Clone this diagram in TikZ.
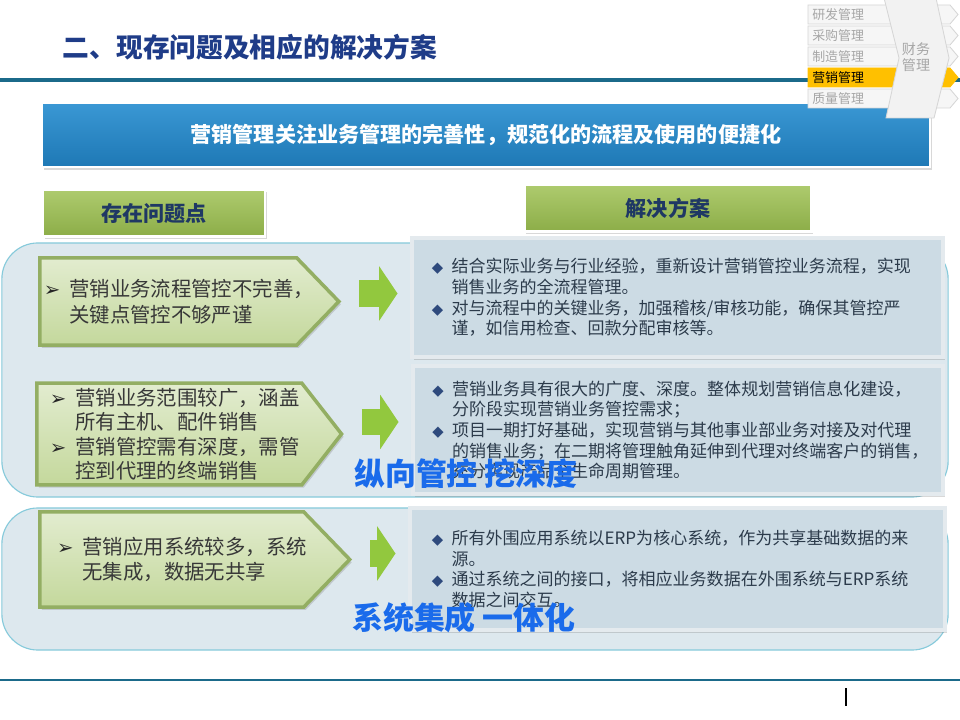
\documentclass[tikz,border=0pt]{standalone}
\usepackage{fontspec}
\setmainfont{Noto Sans CJK SC}
\newfontfamily\symfont{DejaVu Sans}
\usetikzlibrary{positioning}
\usetikzlibrary{shapes.symbols}
\usetikzlibrary{arrows.meta}
\usetikzlibrary{shadows}

\definecolor{titleblue}{HTML}{1F3C88}
\definecolor{rulelineblue}{HTML}{1B6A8A}
\definecolor{bannertop}{HTML}{3A98D4}
\definecolor{bannerbot}{HTML}{1E78B5}
\definecolor{headtop}{HTML}{AECB6E}
\definecolor{headbot}{HTML}{8CAD48}
\definecolor{headtext}{HTML}{1F3864}
\definecolor{panelfill}{HTML}{DDE8EE}
\definecolor{paneledge}{HTML}{86CADB}
\definecolor{probtop}{HTML}{E2ECCF}
\definecolor{probbot}{HTML}{C4D89C}
\definecolor{probedge}{HTML}{93AE63}
\definecolor{solfill}{HTML}{CCDBE4}
\definecolor{soledge}{HTML}{E4EAEE}
\definecolor{soltext}{HTML}{2C3B4B}
\definecolor{diamondblue}{HTML}{2E4A7D}
\definecolor{arrowgreen}{HTML}{92C83E}
\definecolor{slogan}{HTML}{1A6BEB}
\definecolor{navgrey}{HTML}{A6A6A6}
\definecolor{navedge}{HTML}{D6D6D6}
\definecolor{navfill}{HTML}{F6F6F6}
\definecolor{navgold}{HTML}{FFC000}

\newcommand{\probmark}{\makebox[1.25em][l]{\symfont\fontsize{14}{14}\selectfont\color{black!85}➢}}
\newcommand{\solmark}{\makebox[1.15em][l]{\symfont\fontsize{10.5}{10}\selectfont\color{diamondblue}◆}}

\tikzset{x=0.025cm, y=-0.025cm,
titletext/.style={font=\fontsize{19}{22}\selectfont\bfseries, text=titleblue},
banner/.style={ % top blue bar
draw=white, line width=1pt,
top color=bannertop, bottom color=bannerbot,
minimum width=22.2cm, minimum height=1.6cm,
text=white, font=\fontsize{15}{18}\selectfont\bfseries,
drop shadow={shadow xshift=0.05cm, shadow yshift=-0.08cm, opacity=0.3}},
headbox/.style={
draw=white, line width=2pt,
top color=headtop, bottom color=headbot,
minimum height=1.175cm,
text=headtext, font=\fontsize{15}{18}\selectfont\bfseries,
drop shadow={shadow xshift=0.04cm, shadow yshift=-0.06cm, opacity=0.3}},
panel/.style={draw=paneledge, line width=0.8pt, fill=panelfill, rounded corners=0.9cm},
probbox/.style={ % green pentagons on the left
signal, signal to=east, signal pointer angle=92,
draw=probedge, line width=2.5pt,
top color=probtop, bottom color=probbot,
align=left, inner xsep=0.1cm,
text=black!78, font=\fontsize{14.5}{18.4}\selectfont,
drop shadow={shadow xshift=0.05cm, shadow yshift=-0.07cm, opacity=0.3}},
solbox/.style={ % grey-blue boxes on the right
draw=soledge, line width=2.5pt, fill=solfill,
align=left, text=soltext, font=\fontsize{12.1}{14.6}\selectfont,
drop shadow={shadow xshift=0.05cm, shadow yshift=-0.07cm, opacity=0.3}},
linkarrow/.style={
draw=arrowgreen, line width=19pt,
-{Triangle[length=13pt, width=38pt]},
shorten <=12.8pt, shorten >=9pt},
slogantext/.style={text=slogan, font=\fontsize{22}{26}\selectfont\bfseries},
navrow/.style={draw=navedge, fill=navfill, line width=0.6pt},
navitem/.style={text=navgrey, font=\fontsize{9.2}{11}\selectfont, anchor=west, inner sep=0pt}}

\begin{document}
\begin{tikzpicture}
\useasboundingbox[fill=white] (0,0) rectangle (960,720);

% title and rules
\node[titletext, anchor=west] (title) at (58,47) {二、现存问题及相应的解决方案};
\draw[rulelineblue, line width=2.4pt] (0,80) -- (960,80);
\draw[rulelineblue, line width=2pt] (0,680) -- (960,680);
\draw[black, line width=1pt] (846,688) -- (846,706);

% banner and column heads
\node[banner] (focus) at (486,135) {营销管理关注业务管理的完善性，规范化的流程及使用的便捷化};
\node[headbox, minimum width=5.55cm] (probhead) at (154,213) {存在问题点};
\node[headbox, minimum width=7.175cm] (solhead) at (668,208) {解决方案};

% module navigation, top right
\draw[navrow] (808,5) -- (950,5) -- (958,14.5) -- (950,24) -- (808,24) -- cycle;
\draw[navrow] (808,26) -- (950,26) -- (958,35.5) -- (950,45) -- (808,45) -- cycle;
\draw[navrow] (808,47) -- (950,47) -- (958,56.5) -- (950,66) -- (808,66) -- cycle;
\draw[navrow, fill=navgold, draw=navgold] (808,68) -- (950,68) -- (958,77.5) -- (950,87) -- (808,87) -- cycle;
\draw[navrow] (808,89) -- (950,89) -- (958,98.5) -- (950,108) -- (808,108) -- cycle;
\draw[navrow, fill=white!95!black] (884,-2) -- (936,-2) -- (949,58) -- (934,118) -- (886,118) -- (899,58) -- cycle;
\node[navitem] (nav1) at (812,14.5) {研发管理};
\node[navitem] (nav2) at (812,35.5) {采购管理};
\node[navitem] (nav3) at (812,56.5) {制造管理};
\node[navitem, text=black] (nav4) at (812,77.5) {营销管理};
\node[navitem] (nav5) at (812,98.5) {质量管理};
\node[navitem, anchor=center, align=center, font=\fontsize{10}{11}\selectfont] (navfin) at (916,57) {财务\\管理};

% background panels
\node[panel, minimum width=23.65cm, minimum height=6.35cm] (panelA) at (475,370) {};
\node[panel, minimum width=23.65cm, minimum height=3.55cm] (panelB) at (475,579) {};

% solutions
\node[solbox, minimum width=13.275cm, minimum height=2.975cm, text width=12.275cm] (sol1) at (677.5,297.5) {%
\solmark 结合实际业务与行业经验，重新设计营销管控业务流程，实现\\
\hspace*{1.15em}销售业务的全流程管理。\\
\solmark 对与流程中的关键业务，加强稽核/审核功能，确保其管控严\\
\hspace*{1.15em}谨，如信用检查、回款分配审核等。};
\node[solbox, minimum width=13.25cm, minimum height=3.2cm, text width=12.275cm] (sol2) at (678,430) {%
\solmark 营销业务具有很大的广度、深度。整体规划营销信息化建设，\\
\hspace*{1.15em}分阶段实现营销业务管控需求；\\
\solmark 项目一期打好基础，实现营销与其他事业部业务对接及对代理\\
\hspace*{1.15em}的销售业务；在二期将管理触角延伸到代理对终端客户的销售，\\
\hspace*{1.15em}充分实现产品全生命周期管理。};
\node[solbox, minimum width=13.375cm, minimum height=3.05cm, text width=12.275cm] (sol3) at (677.5,569) {%
\solmark 所有外围应用系统以ERP为核心系统，作为共享基础数据的来\\
\hspace*{1.15em}源。\\
\solmark 通过系统之间的接口，将相应业务数据在外围系统与ERP系统\\
\hspace*{1.15em}数据之间交互。};

% problems
\node[probbox, anchor=west, minimum height=2.175cm, text width=6.225cm] (prob1) at (38,301.5) {%
\probmark 营销业务流程管控不完善，\\
\hspace*{1.25em}关键点管控不够严谨};
\node[probbox, anchor=west, signal pointer angle=104, minimum height=2.45cm, text width=6.425cm,
  font=\fontsize{14.5}{17.4}\selectfont] (prob2) at (35,434) {%
\hspace*{0.45em}\probmark 营销业务范围较广，涵盖\\
\hspace*{1.7em}所有主机、配件销售\\
\hspace*{0.45em}\probmark 营销管控需有深度，需管\\
\hspace*{1.7em}控到代理的终端销售};
\node[probbox, anchor=west, minimum height=2.375cm, text width=6.4cm] (prob3) at (38,559.5) {%
\hspace*{0.65em}\probmark 营销应用系统较多，系统\\
\hspace*{1.9em}无集成，数据无共享};

% arrows from problem to solution
\coordinate (from1) at ([yshift=0.2cm]prob1.east);
\coordinate (from2) at ([yshift=0.3cm]prob2.east);
\coordinate (from3) at ([yshift=0.15cm]prob3.east);
\draw[linkarrow] (from1) -- (from1 -| sol1.west);
\draw[linkarrow] (from2) -- (from2 -| sol2.west);
\draw[linkarrow] (from3) -- (from3 -| sol3.west);

% slogans over the boxes
\node[slogantext] (slogan1) at (466,474) {纵向管控 挖深度};
\node[slogantext] (slogan2) at (464,618) {系统集成 一体化};
\end{tikzpicture}
\end{document}
